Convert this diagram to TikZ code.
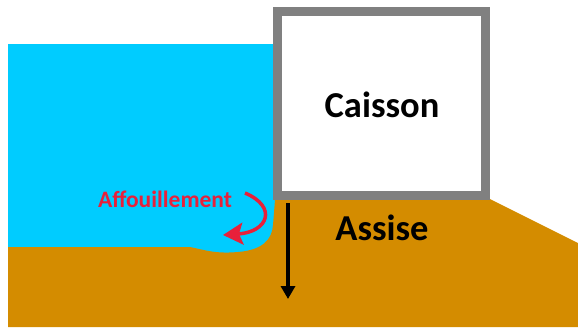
\documentclass[tikz,border=0pt]{standalone}
\usepackage{fontspec}
\usepackage{tikz}
\usetikzlibrary{
  arrows.meta,
  positioning,
  calc
}
\newfontfamily\lblfont{Carlito}
\definecolor{scWater}{HTML}{00CCFF}
\definecolor{scSoil}{HTML}{D48C00}
\definecolor{scWall}{HTML}{808080}
\definecolor{scScour}{HTML}{E8203A}
\tikzset{
  water/.style={fill=scWater, draw=none},
  soil/.style={fill=scSoil, draw=none},
  caisson/.style={draw=scWall, fill=white, line width=9pt},
  biglabel/.style={font=\lblfont\bfseries\fontsize{36.5}{40}\selectfont, inner sep=0pt},
  scourlabel/.style={font=\lblfont\bfseries\fontsize{23.5}{26}\selectfont, text=scScour, inner sep=0pt},
  load/.style={-{Triangle[length=13pt, width=14pt]}, line width=3.5pt, black},
  scour/.style={-{Stealth[length=20pt, width=22pt, inset=4pt]}, line width=3.5pt, scScour}
}

\begin{document}
\begin{tikzpicture}[x=1pt, y=-1pt]
  \useasboundingbox (0,0) rectangle (578,327);
  % river on the left
  \fill[water] (8,44) rectangle (276,262);
  % river bed, with the scour hole at the foot of the caisson
  \fill[soil] (8,247) -- (190,247)
    .. controls (205,250) and (215,254) .. (238,252)
    .. controls (262,250) and (272,240) .. (273,225)
    -- (275,200) -- (490,199) -- (578,243) -- (578,327) -- (8,327) -- cycle;
  % caisson
  \draw[caisson] (277.5,11.5) rectangle (485.5,195.5);
  \node[biglabel] (caisson) at (382,105) {Caisson};
  \node[biglabel] (assise) at (382,228) {Assise};
  % load under the caisson
  \coordinate (load-top) at (288,203);
  \coordinate (load-end) at (288,299);
  \draw[load] (load-top) -- (load-end);
  % scour
  \node[scourlabel] (affou) at (165,199) {Affouillement};
  \coordinate (scour-a) at (245,193);
  \coordinate (scour-b) at (223,235);
  \draw[scour] (scour-a) .. controls (278,207) and (268,232) .. (scour-b);
\end{tikzpicture}
\end{document}
